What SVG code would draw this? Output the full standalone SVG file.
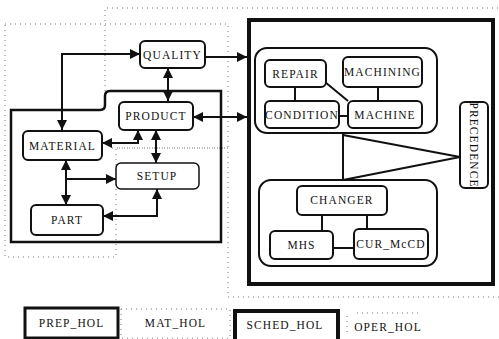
<svg xmlns="http://www.w3.org/2000/svg" width="499" height="339" viewBox="0 0 499 339">
<style>
.bg{fill:#fff}
.box{fill:#fff;stroke:#111;stroke-width:2}
.grp{fill:none;stroke:#111;stroke-width:2}
.t{font-family:"Liberation Serif",serif;font-size:11.5px;letter-spacing:1.1px;fill:#111;text-anchor:middle;dominant-baseline:central}
.c{fill:none;stroke:#111;stroke-width:2}
.dot{fill:none;stroke:#777;stroke-width:1;stroke-dasharray:1 4}
</style>
<defs>
<marker id="ah" viewBox="0 0 10 10" refX="10" refY="5" markerWidth="10" markerHeight="10" markerUnits="userSpaceOnUse" orient="auto-start-reverse">
<path d="M0,0 L10,5 L0,10 Z" fill="#111"/>
</marker>
</defs>
<rect class="bg" x="0" y="0" width="499" height="339"/>

<g id="regions">
<path id="mat_hol_region" class="dot" d="M5,24 H228 V148 H116 V257 H5 Z"/>
<path id="oper_hol_region" class="dot" d="M105,91 V8 H499 M499,297 H228 V148 H108"/>
<path id="prep_hol_region" fill="none" stroke="#111" stroke-width="2.5" d="M11,242 V110 H100 Q105,110 105,105 V96 Q105,91 110,91 H221 V242 Z"/>
<rect id="sched_hol_region" x="249" y="20" width="244" height="264" fill="none" stroke="#111" stroke-width="4"/>
<rect id="upper_group" class="grp" x="255" y="48" width="182" height="85" rx="12"/>
<rect id="lower_group" class="grp" x="259" y="180" width="178" height="86" rx="12"/>
</g>

<g id="connectors">
<path class="c" d="M62,130 V54 H140" marker-start="url(#ah)" marker-end="url(#ah)"/>
<path class="c" d="M205,57 H247" marker-end="url(#ah)"/>
<path class="c" d="M168,68 V101" marker-start="url(#ah)" marker-end="url(#ah)"/>
<path class="c" d="M193,117 H247" marker-start="url(#ah)" marker-end="url(#ah)"/>
<path class="c" d="M138,130 V143 H102" marker-start="url(#ah)" marker-end="url(#ah)"/>
<path class="c" d="M156,130 V163" marker-start="url(#ah)" marker-end="url(#ah)"/>
<path class="c" d="M66,160 V205" marker-start="url(#ah)" marker-end="url(#ah)"/>
<path class="c" d="M66,179 H116" marker-end="url(#ah)"/>
<path class="c" d="M157,189 V216 H103" marker-start="url(#ah)" marker-end="url(#ah)"/>
<path class="c" d="M295,87 V101"/>
<path class="c" d="M378,87 V101"/>
<path class="c" d="M339,116 H348"/>
<path class="c" d="M325,82 L348,101"/>
<path class="c" d="M343,133 V180"/>
<path class="c" d="M343,135 L460,157 L343,180"/>
<path class="c" d="M322,215 V231"/>
<path class="c" d="M367,215 V229"/>
<path class="c" d="M333,248 H354"/>
</g>

<g id="quality"><rect class="box" x="140" y="41" width="65" height="27" rx="5"/><text class="t" x="172.5" y="55">QUALITY</text></g>
<g id="product"><rect class="box" x="119" y="102" width="74" height="28" rx="5"/><text class="t" x="156" y="116">PRODUCT</text></g>
<g id="material"><rect class="box" x="23" y="131" width="79" height="29" rx="5"/><text class="t" x="62.5" y="146">MATERIAL</text></g>
<g id="setup"><rect class="box" x="116" y="163" width="83" height="26" rx="5" style="stroke-width:1.5"/><text class="t" x="157" y="176">SETUP</text></g>
<g id="part"><rect class="box" x="31" y="205" width="72" height="30" rx="5"/><text class="t" x="67" y="220">PART</text></g>

<g id="repair"><rect class="box" x="265" y="60" width="61" height="27" rx="5"/><text class="t" x="295.5" y="74">REPAIR</text></g>
<g id="machining"><rect class="box" x="343" y="57" width="79" height="30" rx="5"/><text class="t" x="382.5" y="72">MACHINING</text></g>
<g id="condition"><rect class="box" x="265" y="101" width="74" height="27" rx="5"/><text class="t" x="302" y="115">CONDITION</text></g>
<g id="machine"><rect class="box" x="348" y="101" width="74" height="27" rx="5"/><text class="t" x="385" y="115">MACHINE</text></g>
<g id="precedence"><rect class="box" x="460" y="102" width="28" height="86" rx="5"/><text class="t" x="474" y="145" transform="rotate(90 474 145)">PRECEDENCE</text></g>

<g id="changer"><rect class="box" x="297" y="186" width="90" height="29" rx="5"/><text class="t" x="342" y="200">CHANGER</text></g>
<g id="mhs"><rect class="box" x="270" y="231" width="63" height="28" rx="5"/><text class="t" x="301.5" y="245">MHS</text></g>
<g id="cur_mccd"><rect class="box" x="354" y="229" width="74" height="30" rx="5"/><text class="t" x="391" y="244">CUR_McCD</text></g>

<g id="legend">
<g id="legend_prep"><rect x="25" y="308" width="93" height="30" fill="none" stroke="#111" stroke-width="3"/><text class="t" x="71.5" y="323">PREP_HOL</text></g>
<g id="legend_mat"><rect class="dot" x="121" y="309" width="109" height="29"/><text class="t" x="175.5" y="323">MAT_HOL</text></g>
<g id="legend_sched"><rect x="235" y="311" width="103" height="30" fill="none" stroke="#111" stroke-width="4"/><text class="t" x="285" y="325">SCHED_HOL</text></g>
<g id="legend_oper"><path class="dot" d="M347,332 V314 M357,313 H420"/><text class="t" x="388" y="327">OPER_HOL</text></g>
</g>
</svg>
